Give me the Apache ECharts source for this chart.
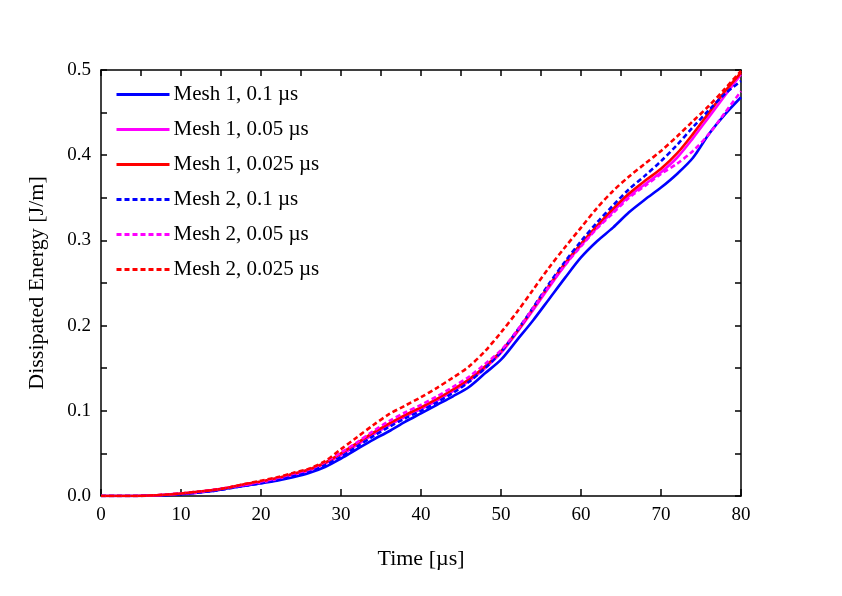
<!DOCTYPE html>
<html>
<head>
<meta charset="utf-8">
<script src="https://cdn.jsdelivr.net/npm/echarts@6/dist/echarts.min.js"></script>
<style>
html,body{margin:0;padding:0;background:#fff;}
#chart{width:842px;height:596px;}
</style>
</head>
<body>
<div id="chart"></div>
<script>
const time = [0,2,4,6,8,10,12,14,16,18,20,22,24,26,28,30,32,34,36,38,40,42,44,46,48,50,52,54,56,58,60,62,64,66,68,70,72,74,76,78,80];
const seriesNames = ['Mesh 1, 0.1 µs','Mesh 1, 0.05 µs','Mesh 1, 0.025 µs','Mesh 2, 0.1 µs','Mesh 2, 0.05 µs','Mesh 2, 0.025 µs'];
const mesh1_01 = [0,0,0,0.0005,0.001,0.002,0.004,0.006,0.009,0.012,0.015,0.018,0.022,0.027,0.034,0.044,0.055,0.066,0.076,0.087,0.097,0.107,0.117,0.128,0.144,0.160,0.183,0.206,0.231,0.256,0.280,0.299,0.315,0.333,0.348,0.362,0.378,0.397,0.425,0.448,0.468];
const mesh1_005 = [0,0,0,0.0005,0.0015,0.003,0.004,0.007,0.010,0.013,0.016,0.020,0.025,0.030,0.038,0.048,0.060,0.072,0.083,0.093,0.102,0.112,0.123,0.135,0.150,0.168,0.192,0.218,0.245,0.271,0.294,0.315,0.334,0.352,0.366,0.380,0.397,0.420,0.445,0.470,0.495];
const mesh1_0025 = [0,0,0,0.0005,0.0015,0.003,0.005,0.007,0.010,0.014,0.017,0.021,0.026,0.031,0.039,0.050,0.062,0.074,0.085,0.095,0.104,0.114,0.125,0.137,0.152,0.170,0.193,0.220,0.247,0.273,0.296,0.317,0.337,0.355,0.370,0.384,0.402,0.425,0.450,0.475,0.497];
const mesh2_01 = [0,0,0,0.0005,0.001,0.0025,0.004,0.006,0.009,0.012,0.015,0.019,0.024,0.029,0.036,0.046,0.058,0.070,0.081,0.091,0.100,0.110,0.121,0.134,0.150,0.169,0.194,0.221,0.249,0.275,0.299,0.321,0.341,0.360,0.376,0.393,0.412,0.433,0.453,0.472,0.487];
const mesh2_005 = [0,0,0,0.0005,0.0015,0.003,0.005,0.007,0.010,0.013,0.017,0.021,0.026,0.031,0.040,0.051,0.063,0.076,0.088,0.098,0.107,0.117,0.128,0.140,0.155,0.171,0.194,0.220,0.246,0.271,0.293,0.314,0.332,0.350,0.364,0.378,0.390,0.405,0.425,0.450,0.475];
const mesh2_0025 = [0,0,0,0.0005,0.0015,0.003,0.005,0.007,0.010,0.014,0.018,0.022,0.027,0.032,0.041,0.055,0.069,0.083,0.096,0.106,0.116,0.127,0.139,0.152,0.170,0.192,0.216,0.242,0.268,0.292,0.315,0.338,0.358,0.375,0.390,0.405,0.422,0.440,0.458,0.478,0.499];

const allData = [mesh1_01, mesh1_005, mesh1_0025, mesh2_01, mesh2_005, mesh2_0025];
const colors = ['#0000FF','#FF00FF','#FF0000','#0000FF','#FF00FF','#FF0000'];
const dashed = [false,false,false,true,true,true];

const FONT = "'Liberation Serif','Times New Roman',serif";
const chart = echarts.init(document.getElementById('chart'), null, {renderer:'canvas'});

const series = allData.map((d,i)=>({
  name: seriesNames[i],
  type: 'line',
  xAxisIndex: 0, yAxisIndex: 0,
  data: d.map((v,j)=>[time[j], v]),
  symbol: 'none',
  showSymbol: false,
  smooth: 0.3,
  lineStyle: {color: colors[i], width: 2.6, type: dashed[i] ? [5,3] : 'solid'},
  itemStyle: {color: colors[i]},
  z: 2 + i
}));

const tick = {show:true, inside:true, length:6, lineStyle:{color:'#000', width:1.5}};
const minor = {show:true, splitNumber:2, length:6, lineStyle:{color:'#000', width:1.5}};
const axLine = {show:true, onZero:false, lineStyle:{color:'#000', width:1.5}};

chart.setOption({
  animation: false,
  backgroundColor: '#fff',
  grid: {left:101, right:101, top:70, bottom:100, containLabel:false},
  legend: {
    orient: 'vertical',
    left: 110, top: 79,
    itemWidth: 53, itemHeight: 14, itemGap: 14,
    itemStyle: {opacity: 0},
    lineStyle: {width: 3},
    textStyle: {fontFamily: FONT, fontSize: 21, color:'#000', padding:[0,0,0,-1]},
    data: seriesNames
  },
  xAxis: [{
    type:'value', min:0, max:80, interval:10, position:'bottom',
    name:'Time [µs]', nameLocation:'middle', nameGap:52,
    nameTextStyle:{fontFamily:FONT, fontSize:22, color:'#000'},
    axisLine: axLine,
    axisTick:{show:true, inside:true, length:7, lineStyle:{color:'#000', width:1.5}},
    axisLabel:{fontFamily:FONT, fontSize:19, color:'#000', margin:10},
    splitLine:{show:false}
  },{
    type:'value', min:0, max:80, interval:10, position:'top',
    axisLine: axLine,
    axisTick: tick, minorTick: minor,
    axisLabel:{show:false}, splitLine:{show:false}, minorSplitLine:{show:false}
  }],
  yAxis: [{
    type:'value', min:0, max:0.5, interval:0.1, position:'left',
    name:'Dissipated Energy [J/m]', nameLocation:'middle', nameGap:53,
    nameTextStyle:{fontFamily:FONT, fontSize:22, color:'#000'},
    axisLine: axLine,
    axisTick: tick, minorTick: minor,
    axisLabel:{fontFamily:FONT, fontSize:19, color:'#000', margin:10, formatter:v=>v.toFixed(1)},
    splitLine:{show:false}, minorSplitLine:{show:false}
  },{
    type:'value', min:0, max:0.5, interval:0.1, position:'right',
    axisLine: axLine,
    axisTick: tick, minorTick: minor,
    axisLabel:{show:false}, splitLine:{show:false}, minorSplitLine:{show:false}
  }],
  series: series
});
</script>
</body>
</html>
